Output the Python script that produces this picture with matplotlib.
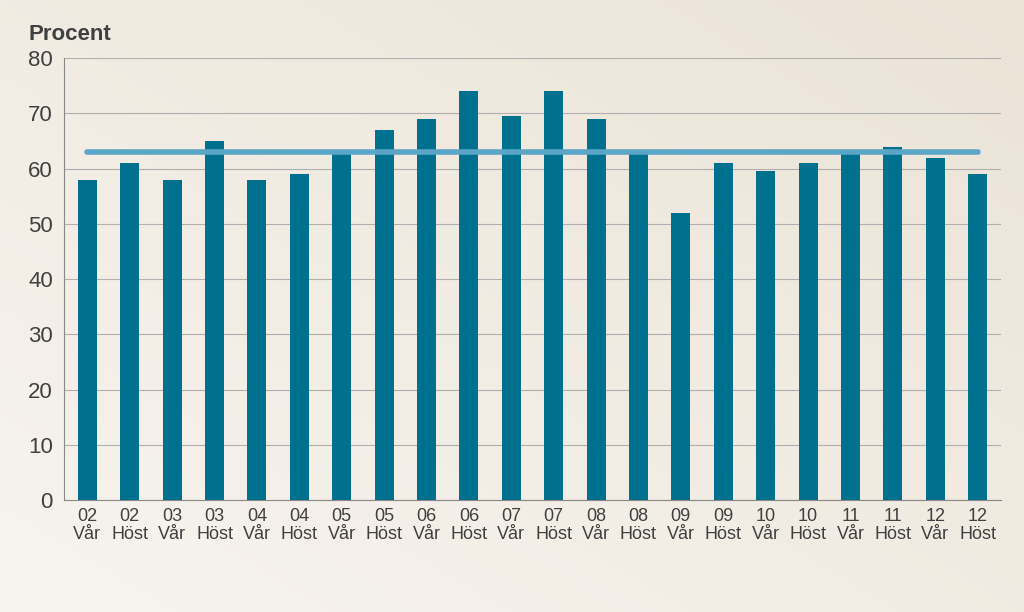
import numpy as np
import matplotlib
matplotlib.use("Agg")
import matplotlib.pyplot as plt

plt.rcParams["font.family"] = "Liberation Sans"

years = ["02", "02", "03", "03", "04", "04", "05", "05", "06", "06", "07",
         "07", "08", "08", "09", "09", "10", "10", "11", "11", "12", "12"]
seasons = ["Vår", "Höst"] * 11
values = [58, 61, 58, 65, 58, 59, 63, 67, 69, 74, 69.5,
          74, 69, 63, 52, 61, 59.5, 61, 63, 64, 62, 59]
average = 63

BAR_COLOR = "#00708f"
LINE_COLOR = "#5aa6c6"

fig = plt.figure(figsize=(10.24, 6.12), dpi=100)

# beige gradient background
bg = fig.add_axes([0, 0, 1, 1], zorder=-10)
gx, gy = np.meshgrid(np.linspace(0, 1, 200), np.linspace(0, 1, 200))
grad = (gx + (1 - gy)) / 2
bg.imshow(grad, cmap=matplotlib.colors.LinearSegmentedColormap.from_list(
    "bg", ["#f7f4ef", "#ebe3d6"]), aspect="auto", extent=[0, 1, 0, 1])
bg.axis("off")

ax = fig.add_axes([0.0625, 0.183, 0.915, 0.722])
ax.set_facecolor("none")
x = np.arange(len(values))
ax.bar(x, values, width=0.45, color=BAR_COLOR, zorder=3)
ax.plot([x[0], x[-1]], [average, average], color=LINE_COLOR, lw=4,
        solid_capstyle="round", zorder=4)

ax.set_xlim(-0.55, len(values) - 0.45)
ax.set_ylim(0, 80)
ax.set_yticks(range(0, 81, 10))
ax.yaxis.grid(True, color="#b0b0b0", lw=0.8, zorder=0)
ax.set_xticks(x)
ax.set_xticklabels([f"{y}\n{s}" for y, s in zip(years, seasons)],
                   fontsize=13, color="#404040", linespacing=1.05)
ax.tick_params(axis="y", labelsize=16, colors="#404040", length=0, pad=8)
ax.tick_params(axis="x", length=0, pad=6)
for side in ("top", "right"):
    ax.spines[side].set_visible(False)
ax.spines["left"].set_color("#888888")
ax.spines["bottom"].set_color("#888888")

fig.text(0.028, 0.935, "Procent", fontsize=16, fontweight="bold", color="#404040")

fig.savefig("out.png", dpi=100)
